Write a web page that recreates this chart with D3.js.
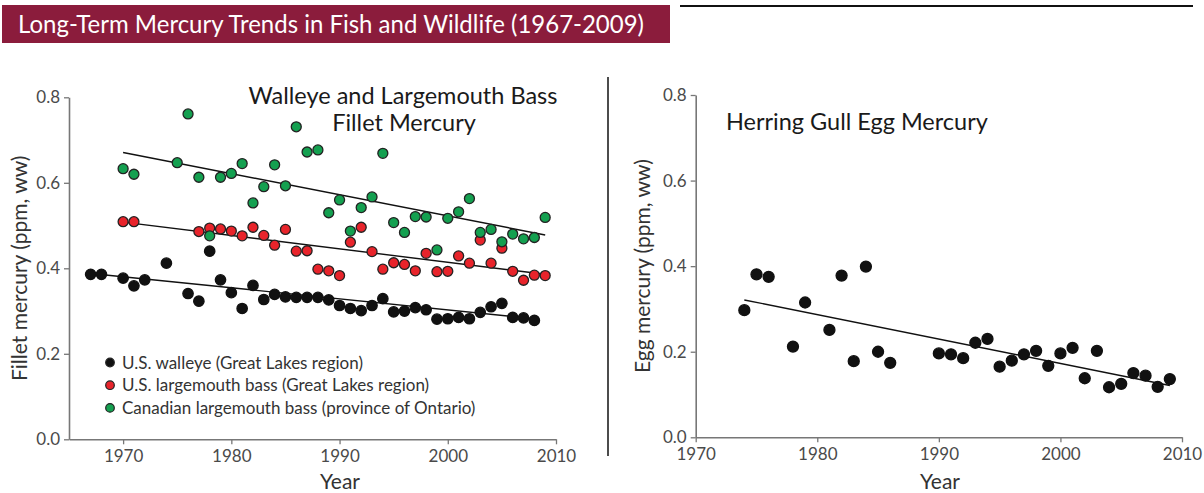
<!DOCTYPE html>
<html><head><meta charset="utf-8">
<script src="https://cdn.jsdelivr.net/npm/d3@7"></script>
<style>
body{margin:0;background:#fff;}
svg{display:block;font-family:Lato,"Open Sans",sans-serif;}
</style></head>
<body><svg id="c" width="1204" height="493"></svg>
<script>
// ---- data ----
const walleyeYears = [1967,1968,1970,1971,1972,1974,1976,1977,1978,1979,1980,1981,1982,1983,1984,1985,1986,1987,1988,1989,1990,1991,1992,1993,1994,1995,1996,1997,1998,1999,2000,2001,2002,2003,2004,2005,2006,2007,2008];
const walleyeValues = [0.386,0.386,0.377,0.359,0.373,0.412,0.341,0.323,0.440,0.373,0.343,0.306,0.360,0.327,0.339,0.333,0.332,0.332,0.332,0.326,0.313,0.306,0.301,0.313,0.329,0.298,0.300,0.308,0.303,0.281,0.282,0.285,0.282,0.297,0.310,0.318,0.285,0.284,0.278];
const usBassYears = [1970,1971,1977,1978,1979,1980,1981,1982,1983,1984,1985,1986,1987,1988,1989,1990,1991,1992,1993,1994,1995,1996,1997,1998,1999,2000,2001,2002,2003,2004,2005,2006,2007,2008,2009];
const usBassValues = [0.509,0.509,0.486,0.494,0.492,0.487,0.476,0.496,0.477,0.454,0.491,0.440,0.441,0.398,0.394,0.383,0.461,0.496,0.439,0.398,0.413,0.409,0.394,0.435,0.392,0.393,0.429,0.412,0.466,0.412,0.447,0.393,0.372,0.384,0.383];
const caBassYears = [1970,1971,1975,1976,1977,1978,1979,1980,1981,1982,1983,1984,1985,1986,1987,1988,1989,1990,1991,1992,1993,1994,1995,1996,1997,1998,1999,2000,2001,2002,2003,2004,2005,2006,2007,2008,2009];
const caBassValues = [0.633,0.620,0.647,0.761,0.613,0.476,0.613,0.622,0.645,0.553,0.591,0.642,0.593,0.731,0.672,0.677,0.530,0.560,0.487,0.542,0.567,0.669,0.507,0.484,0.521,0.520,0.443,0.517,0.532,0.563,0.484,0.491,0.462,0.480,0.469,0.472,0.519];
// trend lines: [startYear, endYear], [startValue, endValue]
const walleyeTrend = {years:[1967,2008], values:[0.388,0.282]};
const usBassTrend = {years:[1970,2009], values:[0.508,0.386]};
const caBassTrend = {years:[1970,2009], values:[0.671,0.478]};
const gullYears = [1974,1975,1976,1978,1979,1981,1982,1983,1984,1985,1986,1990,1991,1992,1993,1994,1995,1996,1997,1998,1999,2000,2001,2002,2003,2004,2005,2006,2007,2008,2009];
const gullValues = [0.297,0.381,0.375,0.212,0.315,0.251,0.378,0.178,0.399,0.200,0.174,0.196,0.194,0.185,0.221,0.230,0.165,0.179,0.194,0.202,0.167,0.196,0.209,0.138,0.202,0.117,0.125,0.150,0.144,0.118,0.136];
const gullTrend = {years:[1974,2009], values:[0.321,0.121]};
const yTicks = [0.0,0.2,0.4,0.6,0.8];
const xTicks = [1970,1980,1990,2000,2010];
const legendLabels = ["U.S. walleye (Great Lakes region)","U.S. largemouth bass (Great Lakes region)","Canadian largemouth bass (province of Ontario)"];
const mainTitle = "Long-Term Mercury Trends in Fish and Wildlife (1967-2009)";

const svg = d3.select("#c");
const colBlack="#111", colRed="#e8242b", colGreen="#14a050";

// banner
svg.append("rect").attr("x",2).attr("y",5).attr("width",668).attr("height",38).attr("fill","#8b1c3c");
svg.append("text").attr("x",18).attr("y",33).attr("fill","#fff").attr("font-size",25)
  .attr("textLength",626).attr("lengthAdjust","spacingAndGlyphs").text(mainTitle);
svg.append("line").attr("x1",680).attr("x2",1193).attr("y1",6).attr("y2",6).attr("stroke","#111").attr("stroke-width",2);
// separator
svg.append("line").attr("x1",608).attr("x2",608).attr("y1",77).attr("y2",456).attr("stroke","#111").attr("stroke-width",1.5);

function axes(g, x, y, xLabel, xLabX, yLabel, ylabX){
  const ya = g.append("g").attr("transform",`translate(${x.range()[0]},0)`)
    .call(d3.axisLeft(y).tickValues(yTicks).tickFormat(d3.format(".1f")).tickSize(5).tickSizeOuter(0));
  const xa = g.append("g").attr("transform",`translate(0,${y.range()[0]})`)
    .call(d3.axisBottom(x).tickValues(xTicks).tickFormat(d3.format("d")).tickSize(5).tickSizeOuter(0));
  [ya,xa].forEach(a=>{
    a.select(".domain").attr("stroke","#777").attr("stroke-width",1.6);
    a.selectAll(".tick line").attr("stroke","#777").attr("stroke-width",1.3);
    a.selectAll(".tick text").attr("fill","#4a4a4a").attr("font-size",17).attr("font-family","Lato,sans-serif");
  });
  ya.selectAll(".tick text").attr("x",-9);
  xa.selectAll(".tick text").attr("y",11);
  g.append("text").attr("x",xLabX).attr("y",489).attr("text-anchor","middle")
    .attr("font-size",21).attr("fill","#333").text(xLabel);
  g.append("text").attr("transform",`translate(${ylabX},${(y.range()[0]+y.range()[1])/2}) rotate(-90)`)
    .attr("text-anchor","middle").attr("font-size",21).attr("fill","#333").text(yLabel);
}
function trend(g,x,y,t){
  g.append("line").attr("x1",x(t.years[0])).attr("x2",x(t.years[1]))
    .attr("y1",y(t.values[0])).attr("y2",y(t.values[1])).attr("stroke","#111").attr("stroke-width",1.4);
}
function dots(g,x,y,years,vals,fill,stroke,r){
  g.append("g").selectAll("circle").data(years).join("circle")
    .attr("cx",d=>x(d)).attr("cy",(d,i)=>y(vals[i])).attr("r",r)
    .attr("fill",fill).attr("stroke",stroke).attr("stroke-width",1.3);
}

// left chart
const xL = d3.scaleLinear().domain([1965,2010]).range([69,556]);
const yL = d3.scaleLinear().domain([0,0.8]).range([439.3,97.3]);
const gL = svg.append("g");
axes(gL,xL,yL,"Year",340,"Fillet mercury (ppm, ww)",27);
trend(gL,xL,yL,walleyeTrend);
trend(gL,xL,yL,usBassTrend);
trend(gL,xL,yL,caBassTrend);
dots(gL,xL,yL,walleyeYears,walleyeValues,colBlack,"#111",5.2);
dots(gL,xL,yL,usBassYears,usBassValues,colRed,"#222",5);
dots(gL,xL,yL,caBassYears,caBassValues,colGreen,"#222",5);
gL.append("text").attr("x",403).attr("y",104).attr("text-anchor","middle").attr("font-size",23.5).attr("fill","#1a1a1a").text("Walleye and Largemouth Bass");
gL.append("text").attr("x",404).attr("y",131).attr("text-anchor","middle").attr("font-size",23.5).attr("fill","#1a1a1a").text("Fillet Mercury");
const legCols=[colBlack,colRed,colGreen];
const leg = gL.append("g").selectAll("g").data(legendLabels).join("g")
  .attr("transform",(d,i)=>`translate(110,${362.5+i*22.7})`);
leg.append("circle").attr("r",4.3).attr("fill",(d,i)=>legCols[i]).attr("stroke","#222").attr("stroke-width",1.2);
leg.append("text").attr("x",12).attr("y",6).attr("font-size",17).attr("fill","#333").text(d=>d);

// right chart
const xR = d3.scaleLinear().domain([1970,2010]).range([695.7,1182]);
const yR = d3.scaleLinear().domain([0,0.8]).range([437.3,95]);
const gR = svg.append("g");
axes(gR,xR,yR,"Year",940,"Egg mercury (ppm, ww)",650);
trend(gR,xR,yR,gullTrend);
dots(gR,xR,yR,gullYears,gullValues,colBlack,"#111",5.5);
gR.append("text").attr("x",726).attr("y",130).attr("font-size",23.5).attr("fill","#1a1a1a").text("Herring Gull Egg Mercury");
</script></body></html>
